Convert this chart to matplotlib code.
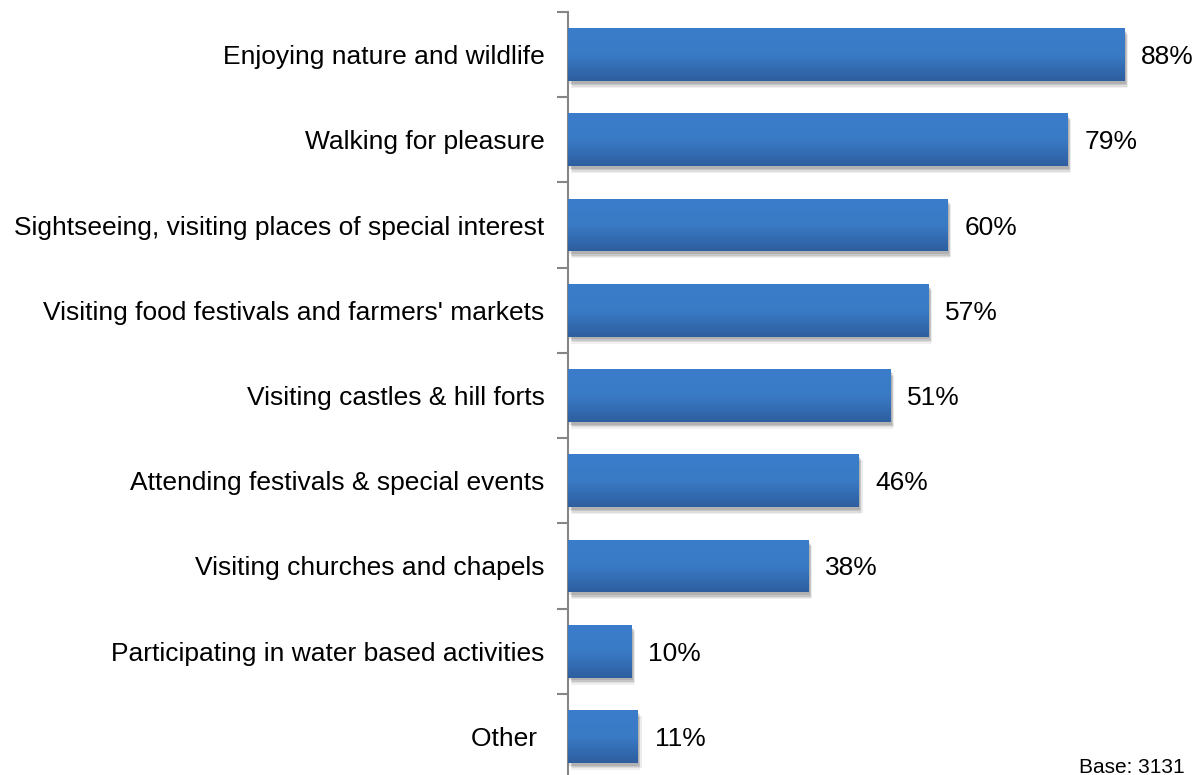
import numpy as np
import matplotlib
matplotlib.use("Agg")
import matplotlib.pyplot as plt
import matplotlib.patheffects as pe
from matplotlib.colors import LinearSegmentedColormap

plt.rcParams['font.family'] = ['Liberation Sans', 'DejaVu Sans']

categories = [
    "Enjoying nature and wildlife",
    "Walking for pleasure",
    "Sightseeing, visiting places of special interest",
    "Visiting food festivals and farmers' markets",
    "Visiting castles & hill forts",
    "Attending festivals & special events",
    "Visiting churches and chapels",
    "Participating in water based activities",
    "Other ",
]
values = [88, 79, 60, 57, 51, 46, 38, 10, 11]
value_labels = ["88%", "79%", "60%", "57%", "51%", "46%", "38%", "10%", "11%"]
base_note = "Base: 3131"

fig = plt.figure(figsize=(12, 7.75), dpi=100)
ax = fig.add_axes([568 / 1200, 1 - 779 / 775, 1 - 568 / 1200, 767 / 775])

ypos = np.arange(len(categories))
bar_h = 0.62
bars = ax.barh(ypos, values, height=bar_h, color="#2f63a6", edgecolor="none", zorder=2)

# soft drop shadow under each bar
shadow_fx = [
    pe.SimplePatchShadow(offset=(2, -5), shadow_rgbFace="#000000", alpha=0.06),
    pe.SimplePatchShadow(offset=(3, -4), shadow_rgbFace="#000000", alpha=0.08),
    pe.SimplePatchShadow(offset=(2, -3), shadow_rgbFace="#000000", alpha=0.10),
    pe.SimplePatchShadow(offset=(1, -2), shadow_rgbFace="#000000", alpha=0.10),
    pe.Normal(),
]

# vertical gradient fill
grad_cmap = LinearSegmentedColormap.from_list("bluegrad", ["#3b7dca", "#3a7bc6", "#2d5e9f"])
grad = np.linspace(0, 1, 256).reshape(-1, 1)
for bar, v, y in zip(bars, values, ypos):
    bar.set_path_effects(shadow_fx)
    im = ax.imshow(grad, cmap=grad_cmap, aspect="auto", interpolation="bilinear",
                   extent=(0, v, y + bar_h / 2, y - bar_h / 2), origin="upper", zorder=3)
    im.set_clip_path(bar)

for v, y, lab in zip(values, ypos, value_labels):
    ax.annotate(lab, xy=(v, y), xytext=(17, 0), textcoords="offset pixels",
                va="center_baseline", ha="left", fontsize=19, color="#000000")

ax.set_xlim(0, 100)
ax.set_ylim(len(categories) - 0.5, -0.5)

ax.set_yticks(ypos)
ax.set_yticklabels(categories, fontsize=19, va="center_baseline")
ax.set_yticks(np.arange(-0.5, len(categories), 1), minor=True)
ax.tick_params(axis="y", which="major", length=0, pad=17)
ax.tick_params(axis="y", which="minor", length=8, width=1.5, color="#868686", direction="out")
ax.set_xticks([])
for side in ["top", "right", "bottom"]:
    ax.spines[side].set_visible(False)
ax.spines["left"].set_color("#868686")
ax.spines["left"].set_linewidth(1.5)

fig.text(1079 / 1200, 1 - 773 / 775, base_note, fontsize=15, ha="left", va="baseline")

fig.savefig("out.png", dpi=100)
